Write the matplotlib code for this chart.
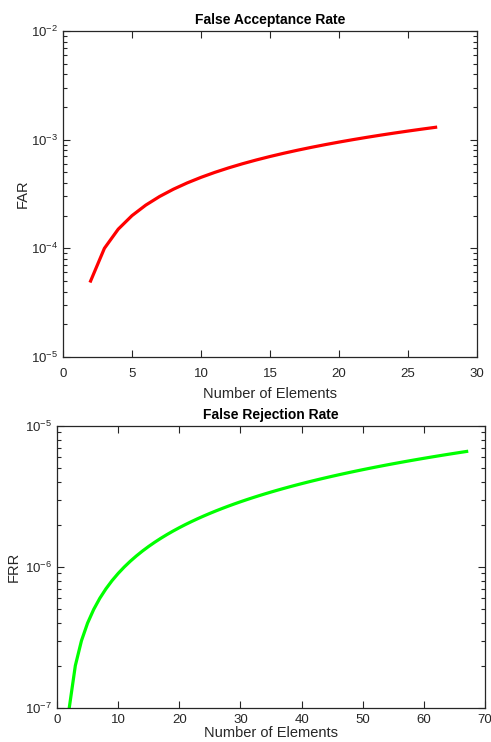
import matplotlib
matplotlib.use("Agg")
import matplotlib.pyplot as plt
from matplotlib.ticker import FixedLocator, FuncFormatter, LogLocator, NullFormatter

plt.rcParams['font.family'] = ['Liberation Sans', 'DejaVu Sans']
plt.rcParams['mathtext.fontset'] = 'custom'
plt.rcParams['mathtext.rm'] = 'Liberation Sans'
plt.rcParams['mathtext.it'] = 'Liberation Sans'

far_x = list(range(2, 28))
far_y = [5e-5, 1e-4, 1.5e-4, 2e-4, 2.5e-4, 3e-4, 3.5e-4, 4e-4, 4.5e-4, 5e-4,
         5.5e-4, 6e-4, 6.5e-4, 7e-4, 7.5e-4, 8e-4, 8.5e-4, 9e-4, 9.5e-4, 1e-3,
         1.05e-3, 1.1e-3, 1.15e-3, 1.2e-3, 1.25e-3, 1.3e-3]

frr_x = list(range(2, 68))
frr_units = [1, 2, 3, 4, 5, 6, 7, 8, 9, 10, 11, 12, 13, 14, 15, 16, 17, 18, 19, 20,
             21, 22, 23, 24, 25, 26, 27, 28, 29, 30, 31, 32, 33, 34, 35, 36, 37, 38, 39, 40,
             41, 42, 43, 44, 45, 46, 47, 48, 49, 50, 51, 52, 53, 54, 55, 56, 57, 58, 59, 60,
             61, 62, 63, 64, 65, 66]
frr_y = [u * 1e-7 for u in frr_units]

far_xticks = [0, 5, 10, 15, 20, 25, 30]
frr_xticks = [0, 10, 20, 30, 40, 50, 60, 70]

W, H = 491, 742
fig = plt.figure(figsize=(W / 100, H / 100), dpi=100)

def axrect(l, t, r, b):
    return [l / W, 1 - b / H, (r - l) / W, (b - t) / H]

ax1 = fig.add_axes(axrect(63, 31, 477, 357))
ax2 = fig.add_axes(axrect(57, 426, 485, 708))

def sci(v, pos):
    import math
    e = int(round(math.log10(v)))
    return r'$10^{%d}$' % e

def style(ax, xticks, ylim, title, ylabel, xpad, xlpad, ylpad):
    ax.set_yscale('log')
    ax.set_xlim(xticks[0], xticks[-1])
    ax.set_ylim(*ylim)
    ax.xaxis.set_major_locator(FixedLocator(xticks))
    ax.yaxis.set_major_locator(LogLocator(base=10, numticks=10))
    ax.yaxis.set_minor_locator(LogLocator(base=10, subs=range(2, 10), numticks=20))
    ax.yaxis.set_major_formatter(FuncFormatter(sci))
    ax.yaxis.set_minor_formatter(NullFormatter())
    ax.tick_params(which='both', direction='in', top=True, right=True, labelsize=9.5, colors='#262626')
    ax.tick_params(which='major', length=5, width=0.8)
    ax.tick_params(which='minor', length=3, width=0.8)
    ax.tick_params(axis='x', pad=xpad)
    for s in ax.spines.values():
        s.set_color('#262626')
        s.set_linewidth(0.9)
    ax.set_title(title, fontsize=10, fontweight='bold', pad=5)
    ax.set_xlabel('Number of Elements', fontsize=10.5, color='#262626', labelpad=xlpad)
    ax.set_ylabel(ylabel, fontsize=10.5, color='#262626', labelpad=ylpad)

ax1.plot(far_x, far_y, color='#ff0000', linewidth=2.3)
style(ax1, far_xticks, (1e-5, 1e-2), 'False Acceptance Rate', 'FAR', 8, 5, 1)

ax2.plot(frr_x, frr_y, color='#00ff00', linewidth=2.3)
style(ax2, frr_xticks, (1e-7, 1e-5), 'False Rejection Rate', 'FRR', 4, 0, 3)

fig.savefig('out.png', dpi=100)
